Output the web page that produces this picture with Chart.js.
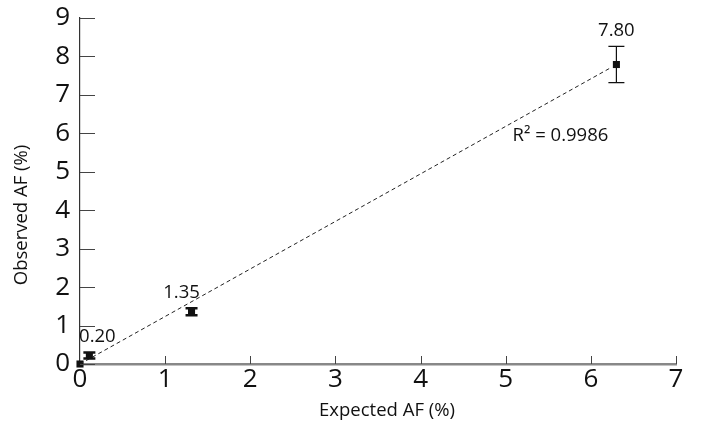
<!DOCTYPE html>
<html>
<head>
<meta charset="utf-8">
<script src="https://cdn.jsdelivr.net/npm/chart.js@4"></script>
<style>
  html, body { margin: 0; padding: 0; background: #fff; }
  #wrap { width: 702px; height: 425px; }
</style>
</head>
<body>
<div id="wrap"><canvas id="chart"></canvas></div>
<script>
// values
let expected = [0, 0.11, 1.31, 6.30]
let observed = [0, 0.22, 1.36, 7.79]
let errors = [0, 0.08, 0.09, 0.47]
let pointLabels = ['', '0.20', '1.35', '7.80']
let trendX = [0, 6.22]
let trendY = [0, 7.69]
let r2Text = 'R\u00B2 = 0.9986'
let xTitle = 'Expected AF (%)'
let yTitle = 'Observed AF (%)'

let font = '"Open Sans", "Noto Sans", sans-serif'

let extras = {
    id: 'extras',
    afterDatasetsDraw(chart) {
        let ctx = chart.ctx
        let x = chart.scales.x
        let y = chart.scales.y
        let area = chart.chartArea
        ctx.save()

        // inward ticks
        ctx.lineWidth = 1
        ctx.strokeStyle = '#444'
        y.ticks.forEach(t => {
            let py = Math.round(y.getPixelForValue(t.value)) + 0.5
            ctx.beginPath()
            ctx.moveTo(area.left, py)
            ctx.lineTo(area.left + 15, py)
            ctx.stroke()
        })
        x.ticks.forEach(t => {
            if (t.value === 0) return
            let px = Math.round(x.getPixelForValue(t.value)) + 0.5
            ctx.beginPath()
            ctx.moveTo(px, area.bottom)
            ctx.lineTo(px, area.bottom - 8)
            ctx.stroke()
        })

        // error bars
        ctx.strokeStyle = '#111'
        expected.forEach((ex, i) => {
            if (!errors[i]) return
            let px = x.getPixelForValue(ex)
            let top = y.getPixelForValue(observed[i] + errors[i])
            let bot = y.getPixelForValue(observed[i] - errors[i])
            let cap = errors[i] > 0.2 ? 8 : 6
            ctx.lineWidth = errors[i] > 0.2 ? 1.2 : 2.5
            ctx.beginPath()
            ctx.moveTo(px, top)
            ctx.lineTo(px, bot)
            ctx.moveTo(px - cap, top)
            ctx.lineTo(px + cap, top)
            ctx.moveTo(px - cap, bot)
            ctx.lineTo(px + cap, bot)
            ctx.stroke()
        })

        // value labels
        ctx.fillStyle = '#111'
        ctx.font = '18.5px ' + font
        ctx.textAlign = 'center'
        ctx.textBaseline = 'alphabetic'
        expected.forEach((ex, i) => {
            if (!pointLabels[i]) return
            let px = x.getPixelForValue(ex)
            let top = y.getPixelForValue(observed[i] + errors[i])
            let lx = i === 1 ? px + 8 : px - (i === 2 ? 10 : 0)
            ctx.fillText(pointLabels[i], lx, top - 10)
        })

        // r squared
        ctx.textAlign = 'left'
        ctx.fillText(r2Text, x.getPixelForValue(5.08), y.getPixelForValue(5.8))

        // axis titles
        ctx.font = '18.5px ' + font
        ctx.textAlign = 'center'
        ctx.textBaseline = 'middle'
        ctx.fillText(xTitle, 387, 411)
        ctx.translate(22, 215)
        ctx.rotate(-Math.PI / 2)
        ctx.fillText(yTitle, 0, 0)
        ctx.restore()
    }
}

new Chart(document.getElementById('chart'), {
    type: 'scatter',
    data: {
        datasets: [
            {
                label: 'trend',
                type: 'line',
                data: trendX.map((v, i) => ({ x: v, y: trendY[i] })),
                borderColor: '#222',
                borderWidth: 1,
                borderDash: [4, 3],
                pointRadius: 0,
                fill: false
            },
            {
                label: 'observed',
                data: expected.map((v, i) => ({ x: v, y: observed[i] })),
                pointStyle: 'rect',
                pointRadius: 5,
                backgroundColor: '#111',
                borderColor: '#111',
                borderWidth: 0,
                clip: false
            }
        ]
    },
    options: {
        responsive: true,
        maintainAspectRatio: false,
        animation: false,
        layout: { padding: { top: 18, right: 26, left: 0, bottom: 0 } },
        plugins: {
            legend: { display: false },
            tooltip: { enabled: false }
        },
        scales: {
            x: {
                type: 'linear',
                min: 0,
                max: 7,
                ticks: { stepSize: 1, color: '#111', font: { family: font, size: 26 }, padding: 0, maxRotation: 0 },
                grid: { display: false, drawTicks: false },
                border: { display: true, color: '#888', width: 2.5 },
                afterFit: s => { s.height = 61; s.paddingLeft = 0; s.paddingRight = 0 }
            },
            y: {
                min: 0,
                max: 9,
                ticks: { stepSize: 1, color: '#111', font: { family: font, size: 26 }, padding: 10 },
                grid: { display: false, drawTicks: false },
                border: { display: true, color: '#333', width: 1.2 },
                afterFit: s => { s.width = 80; s.paddingTop = 0; s.paddingBottom = 0 }
            }
        }
    },
    plugins: [extras]
})
</script>
</body>
</html>
